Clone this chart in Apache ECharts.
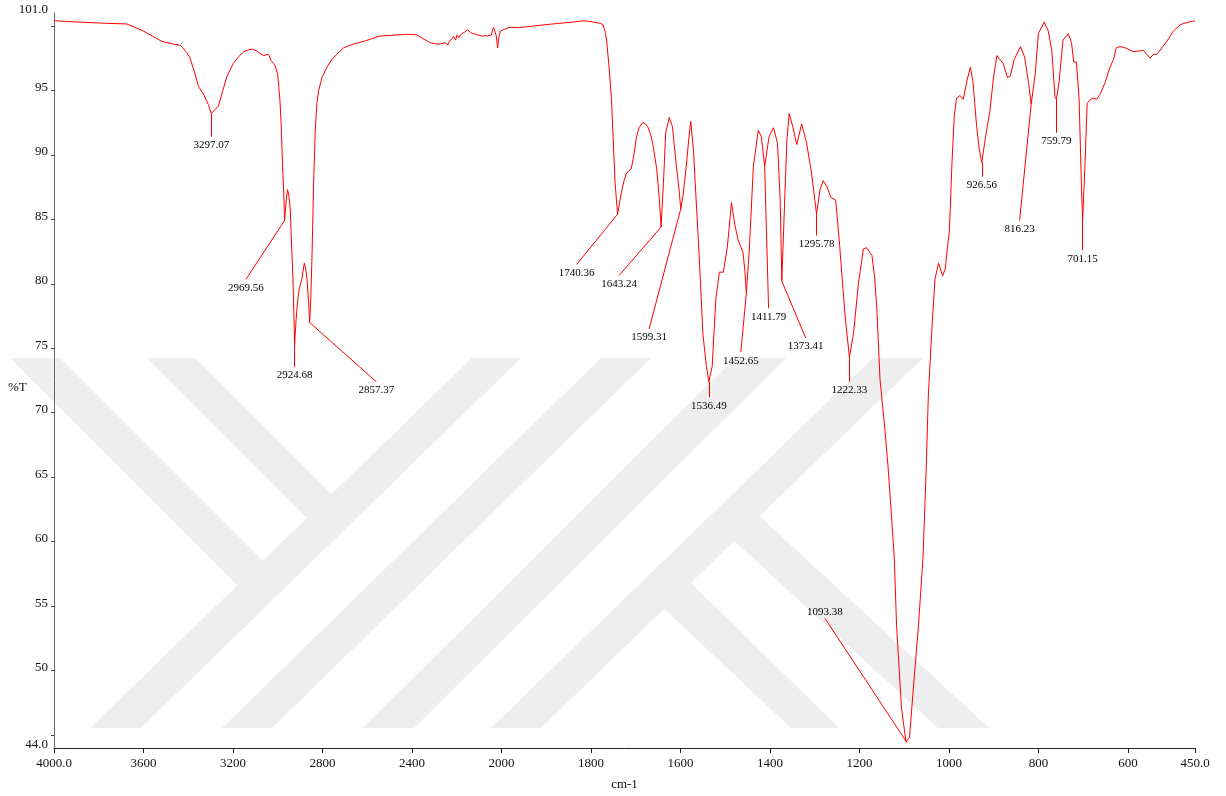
<!DOCTYPE html>
<html>
<head>
<meta charset="utf-8">
<script src="https://cdn.jsdelivr.net/npm/echarts@6/dist/echarts.min.js"></script>
<style>
  html, body { margin: 0; padding: 0; background: #fff; }
  #chart { width: 1226px; height: 796px; }
</style>
</head>
<body>
<div id="chart"></div>
<script>
// spectrum (cm-1, %T)
const wavenumbers = [
  4000, 3950, 3898, 3830, 3764, 3675, 3640, 3600, 3560, 3518, 3470, 3436, 3424, 3405, 3392, 3370, 3354, 3332, 3310, 3297.07,
  3280, 3265, 3245, 3227, 3198, 3175, 3153, 3130, 3111, 3090, 3064, 3041, 3030, 3020, 3011, 3000, 2990, 2985, 2978, 2972,
  2969.56, 2962, 2956, 2950, 2944, 2938, 2932, 2926, 2924.68, 2918, 2912, 2904, 2892, 2881, 2875, 2869, 2862, 2857.37, 2852, 2847,
  2840, 2832, 2825, 2817, 2802, 2780, 2758, 2730, 2706, 2660, 2616, 2580, 2549, 2467, 2420, 2377, 2340, 2318, 2290, 2273,
  2250, 2240, 2236, 2228, 2222, 2214, 2205, 2198, 2191, 2178, 2165, 2154, 2145, 2135, 2124, 2105, 2087, 2075, 2065, 2057,
  2045, 2040, 2035, 2030, 2024, 2017, 2011, 2005, 1996, 1981, 1965, 1952, 1925, 1900, 1870, 1840, 1817, 1805, 1795, 1780,
  1773, 1768, 1765, 1759, 1754, 1750, 1746, 1740.36, 1736, 1732, 1726, 1720, 1710, 1704, 1699, 1693, 1684, 1678, 1672, 1666,
  1661, 1653, 1647, 1643.24, 1638, 1633, 1625, 1618, 1609, 1603, 1599.31, 1594, 1587, 1582, 1577, 1571, 1561, 1555, 1550, 1542,
  1536.49, 1529, 1521, 1513, 1504, 1495, 1486, 1478, 1471, 1460, 1456, 1452.65, 1446, 1437, 1426, 1419, 1411.79, 1402, 1392, 1383,
  1377, 1373.41, 1367, 1362, 1357, 1349, 1340, 1329, 1318, 1307, 1295.78, 1288, 1281, 1272, 1264, 1253, 1244, 1232, 1222.33, 1213,
  1202, 1191, 1184, 1172, 1166, 1161, 1154, 1143, 1135, 1122, 1117, 1106, 1096, 1093.38, 1088, 1080, 1068, 1058, 1051, 1046,
  1038, 1031, 1023, 1014, 1008, 1003, 999, 993, 988, 983, 975, 968, 960, 952, 946, 938, 932, 926.56, 919, 908,
  901, 893, 886, 879, 869, 863, 854, 840, 831, 822, 816.23, 807, 800, 787, 778, 770, 763, 759.79, 754, 745,
  733, 726, 721, 715, 709, 704, 701.15, 696, 691, 683, 677, 670, 662, 651, 640, 632, 626, 617, 606, 588,
  565, 558, 550, 543, 535, 524, 513, 498, 483, 464, 450
];
const transmittance = [
  100.4, 100.35, 100.3, 100.25, 100.2, 100.15, 99.9, 99.6, 99.2, 98.8, 98.6, 98.5, 98.3, 97.9, 97.5, 96.3, 95.3, 94.7, 93.9, 93.2,
  93.5, 93.8, 95.0, 96.1, 97.1, 97.6, 98.0, 98.15, 98.2, 98.0, 97.7, 97.8, 97.3, 97.1, 96.9, 96.2, 94.2, 92.5, 89.0, 86.5,
  84.9, 86.5, 87.3, 86.8, 85.8, 83.0, 80.4, 76.5, 75.2, 77.2, 78.5, 79.6, 80.4, 81.6, 81.2, 80.4, 78.6, 77.0, 79.0, 82.0,
  87.5, 92.0, 94.0, 95.0, 96.0, 96.8, 97.4, 97.9, 98.3, 98.6, 98.8, 99.0, 99.2, 99.3, 99.35, 99.3, 98.9, 98.7, 98.6, 98.6,
  98.7, 98.5, 98.7, 98.6, 99.0, 99.2, 98.9, 99.3, 99.1, 99.4, 99.5, 99.7, 99.6, 99.45, 99.4, 99.3, 99.2, 99.25, 99.2, 99.3,
  99.3, 99.7, 99.9, 99.6, 99.3, 98.3, 99.2, 99.6, 99.7, 99.9, 99.85, 99.9, 100.0, 100.1, 100.2, 100.3, 100.4, 100.35, 100.3, 100.2,
  100.1, 99.5, 98.9, 96.6, 94.3, 91.0, 87.8, 85.4, 86.3, 87.1, 88.0, 88.6, 88.9, 90.0, 91.2, 92.1, 92.5, 92.4, 92.1, 91.5,
  90.7, 88.9, 86.5, 84.4, 87.8, 91.7, 92.9, 92.2, 89.1, 87.3, 85.8, 86.9, 89.1, 91.0, 92.6, 90.4, 84.0, 80.0, 76.2, 73.6,
  72.4, 73.6, 78.8, 80.9, 80.9, 82.9, 86.3, 84.5, 83.4, 82.4, 81.0, 79.3, 82.7, 89.1, 91.9, 91.4, 89.1, 91.4, 92.1, 90.9,
  86.5, 80.2, 86.5, 91.2, 93.2, 92.2, 90.8, 92.4, 90.9, 88.6, 85.4, 87.3, 88.0, 87.5, 86.7, 86.5, 82.9, 77.5, 74.3, 76.2,
  80.1, 82.7, 82.8, 82.2, 80.5, 78.0, 72.6, 68.7, 65.4, 58.7, 53.5, 47.1, 44.5, 44.4, 44.8, 48.4, 53.5, 58.7, 65.4, 71.3,
  76.5, 80.4, 81.6, 80.6, 81.2, 82.9, 84.0, 89.5, 93.0, 94.4, 94.6, 94.3, 95.7, 96.8, 95.6, 92.2, 90.4, 89.4, 91.2, 93.5,
  95.8, 97.7, 97.4, 97.1, 96.0, 96.1, 97.4, 98.4, 97.6, 95.6, 93.9, 96.3, 99.4, 100.3, 99.6, 98.1, 94.5, 94.3, 95.6, 98.9,
  99.4, 98.7, 97.2, 97.2, 94.3, 87.8, 84.9, 89.1, 94.0, 94.3, 94.4, 94.3, 94.7, 95.6, 96.8, 97.4, 98.3, 98.4, 98.3, 98.0,
  98.1, 97.8, 97.5, 97.8, 97.8, 98.3, 98.8, 99.6, 100.1, 100.3, 100.4
];

// labelled peaks
const peakWavenumbers = [3297.07, 2969.56, 2924.68, 2857.37, 1740.36, 1643.24, 1599.31, 1536.49, 1452.65,
  1411.79, 1373.41, 1295.78, 1222.33, 1093.38, 926.56, 816.23, 759.79, 701.15];
const peakTransmittance = [93.2, 84.9, 75.2, 77.0, 85.4, 84.4, 85.8, 72.4, 79.3,
  89.1, 80.2, 85.4, 74.3, 44.4, 89.4, 93.9, 94.3, 84.9];

// axis ticks
const xTickValues = [4000, 3600, 3200, 2800, 2400, 2000, 1800, 1600, 1400, 1200, 1000, 800, 600, 450];
const yLabelValues = [44, 50, 55, 60, 65, 70, 75, 80, 85, 90, 95, 101];
const yTickValues = [45, 50, 55, 60, 65, 70, 75, 80, 85, 90, 95, 100];

// where each leader line ends (layout, in cm-1 / %T)
const leaderEndW = [3297.07, 3142, 2924.68, 2559, 1832, 1737, 1670, 1536.49, 1465,
  1403, 1320, 1295.78, 1222.33, 1277, 926.56, 842, 759.79, 701.15];
const leaderEndT = [91.4, 80.35, 73.55, 72.4, 81.5, 80.65, 76.5, 71.2, 74.7,
  78.1, 75.8, 83.75, 72.4, 54.05, 88.3, 84.9, 91.7, 82.6];

// the x axis is compressed 2:1 above 2000 cm-1
function toAxis(w) { return w >= 2000 ? (4000 - w) / 2 : 1000 + (2000 - w); }
function fromAxis(d) { return d <= 1000 ? 4000 - 2 * d : 2000 - (d - 1000); }

const font = 'Liberation Serif';
const chart = echarts.init(document.getElementById('chart'), null, { renderer: 'canvas' });

const band = (pts) => ({
  type: 'polygon',
  silent: true,
  z: -10,
  shape: { points: pts },
  style: { fill: '#eeeeee' }
});

chart.setOption({
  animation: false,
  backgroundColor: '#fff',
  grid: { left: 54, right: 31, top: 13, bottom: 46 },
  graphic: [
    // faint watermark
    band([[10, 358], [60, 358], [272, 570], [246, 594]]),
    band([[147, 358], [195, 358], [340, 503], [316, 527]]),
    band([[472, 358], [521, 358], [141, 728], [90, 728]]),
    band([[601, 358], [651, 358], [272, 728], [222, 728]]),
    band([[735, 358], [786, 358], [414, 728], [363, 728]]),
    band([[873, 358], [923, 358], [541, 728], [491, 728]]),
    band([[730, 537], [755, 512], [989, 728], [938, 728]]),
    band([[660, 605], [685, 577], [839, 728], [791, 728]]),
    {
      type: 'text', left: 8, top: 381, silent: true,
      style: { text: '%T', font: '13px "' + font + '"', fill: '#111' }
    }
  ],
  xAxis: {
    type: 'value',
    min: 0,
    max: toAxis(450),
    name: 'cm-1',
    nameLocation: 'middle',
    nameGap: 30,
    nameTextStyle: { fontFamily: font, fontSize: 13, color: '#111' },
    splitLine: { show: false },
    axisLine: { onZero: false, lineStyle: { color: '#222', width: 1 } },
    axisTick: { length: 5, lineStyle: { color: '#222' }, customValues: xTickValues.map(toAxis) },
    axisLabel: {
      customValues: xTickValues.map(toAxis),
      margin: 9,
      fontFamily: font,
      fontSize: 13,
      color: '#111',
      formatter: (d) => {
        const w = Math.round(fromAxis(d));
        return (w === 4000 || w === 450) ? w.toFixed(1) : String(w);
      }
    }
  },
  yAxis: {
    type: 'value',
    min: 44,
    max: 101,
    splitLine: { show: false },
    axisLine: { lineStyle: { color: '#666', width: 1 } },
    axisTick: { length: 3, lineStyle: { color: '#444' }, customValues: yTickValues },
    axisLabel: {
      customValues: yLabelValues,
      margin: 6,
      fontFamily: font,
      fontSize: 13,
      color: '#111',
      verticalAlign: 'bottom',
      lineHeight: 6,
      formatter: (v) => (v === 44 || v === 101) ? v.toFixed(1) : String(v)
    }
  },
  series: [
    {
      type: 'line',
      data: wavenumbers.map((w, i) => [toAxis(w), transmittance[i]]),
      showSymbol: false,
      symbol: 'none',
      lineStyle: { color: '#ff0000', width: 1 },
      silent: true,
      markLine: {
        silent: true,
        symbol: ['none', 'none'],
        lineStyle: { color: '#ff0000', width: 1, type: 'solid' },
        label: { show: false },
        data: peakWavenumbers.map((w, i) => [
          { coord: [toAxis(w), peakTransmittance[i]] },
          { coord: [toAxis(leaderEndW[i]), leaderEndT[i]] }
        ])
      }
    },
    {
      type: 'scatter',
      symbolSize: 0,
      silent: true,
      data: peakWavenumbers.map((w, i) => ({
        value: [toAxis(leaderEndW[i]), leaderEndT[i]],
        label: {
          position: leaderEndT[i] < peakTransmittance[i] ? 'bottom' : 'top',
          distance: leaderEndT[i] < peakTransmittance[i] ? 3 : 1
        },
        name: w.toFixed(2)
      })),
      label: {
        show: true,
        formatter: (p) => p.name,
        fontFamily: font,
        fontSize: 11,
        color: '#000',
        opacity: 1
      }
    }
  ]
});
</script>
</body>
</html>
